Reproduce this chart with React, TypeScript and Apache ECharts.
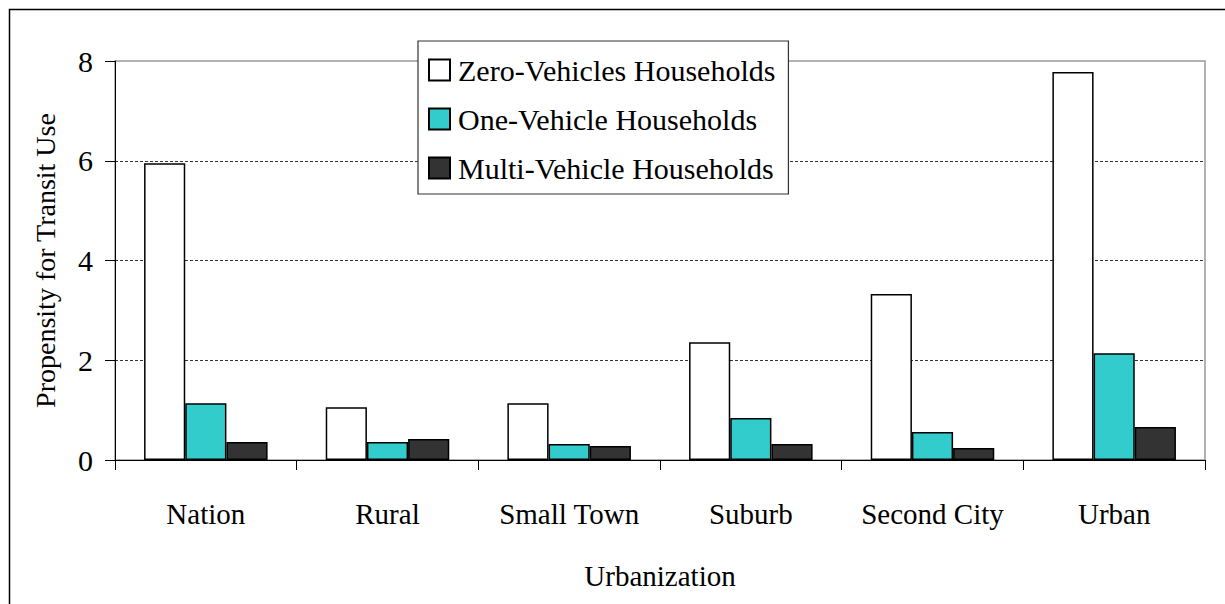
import React, { useEffect, useRef } from "react";
import * as echarts from "echarts";

const categories = ["Nation", "Rural", "Small Town", "Suburb", "Second City", "Urban"];
const zeroVehicle = [5.95, 1.06, 1.14, 2.36, 3.33, 7.78];
const oneVehicle = [1.14, 0.36, 0.32, 0.84, 0.56, 2.14];
const multiVehicle = [0.36, 0.42, 0.28, 0.32, 0.24, 0.66];
const seriesNames = ["Zero-Vehicles Households", "One-Vehicle Households", "Multi-Vehicle Households"];
const seriesColors = ["#ffffff", "#33cccc", "#333333"];

const FONT = "Liberation Serif";

export default function App() {
  const ref = useRef<HTMLDivElement>(null);
  useEffect(() => {
    if (!ref.current) return;
    const chart = echarts.init(ref.current, null, { renderer: "svg" });
    const data = [zeroVehicle, oneVehicle, multiVehicle];
    chart.setOption({
      animation: false,
      backgroundColor: "#ffffff",
      textStyle: { fontFamily: FONT, color: "#000" },
      graphic: [
        {
          type: "rect",
          shape: { x: 9.5, y: 9.5, width: 1230, height: 620 },
          style: { fill: "none", stroke: "#000", lineWidth: 1.5 },
          silent: true,
          z: 0,
        },
      ],
      grid: {
        left: 115,
        top: 61,
        right: 20,
        bottom: 144,
        show: true,
        borderColor: "#999999",
        borderWidth: 1.5,
      },
      legend: {
        orient: "vertical",
        left: 418,
        top: 41,
        itemWidth: 21,
        itemHeight: 21,
        itemGap: 19,
        icon: "rect",
        padding: [14, 13, 11, 10],
        borderColor: "#333",
        borderWidth: 1.2,
        backgroundColor: "#fff",
        textStyle: { fontFamily: FONT, fontSize: 30, color: "#000", padding: [0, 0, 0, 3] },
        data: seriesNames,
        z: 10,
      },
      xAxis: {
        type: "category",
        data: categories,
        name: "Urbanization",
        nameLocation: "middle",
        nameGap: 101,
        nameTextStyle: { fontFamily: FONT, fontSize: 29, color: "#000" },
        axisLine: { show: true, lineStyle: { color: "#000", width: 1 } },
        axisTick: { show: true, alignWithLabel: false, interval: 0, length: 10, lineStyle: { color: "#000" } },
        axisLabel: { interval: 0, fontFamily: FONT, fontSize: 29, color: "#000", margin: 39 },
      },
      yAxis: {
        type: "value",
        min: 0,
        max: 8,
        interval: 2,
        name: "Propensity for Transit Use",
        nameLocation: "middle",
        nameGap: 56,
        nameTextStyle: { fontFamily: FONT, fontSize: 28, color: "#000" },
        axisLine: { show: true, lineStyle: { color: "#000", width: 1 } },
        axisTick: { show: true, length: 10, lineStyle: { color: "#000" } },
        axisLabel: { fontFamily: FONT, fontSize: 30, color: "#000", margin: 22 },
        splitLine: {
          show: true,
          showMinLine: false,
          showMaxLine: false,
          lineStyle: { color: "#000", type: [3, 2], width: 0.8 },
        },
      },
      series: seriesNames.map((name, i) => ({
        name,
        type: "bar",
        data: data[i],
        barGap: "0%",
        barCategoryGap: "32%",
        itemStyle: { color: seriesColors[i], borderColor: "#000", borderWidth: 1.5 },
      })),
    });
    return () => chart.dispose();
  }, []);
  return (
    <div
      ref={ref}
      style={{ position: "absolute", left: 0, top: 0, width: 1225, height: 604 }}
    />
  );
}
